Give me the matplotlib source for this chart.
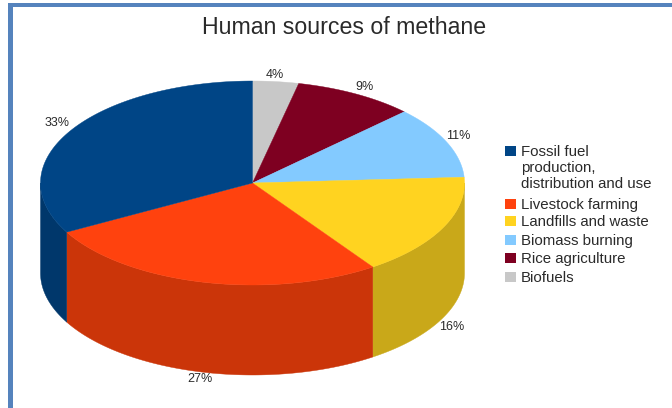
import numpy as np
import matplotlib
matplotlib.use("Agg")
import matplotlib.pyplot as plt
from matplotlib.patches import Rectangle, Polygon

plt.rcParams['font.family'] = ['Liberation Sans', 'DejaVu Sans']

title = "Human sources of methane"
categories = ["Biofuels", "Rice agriculture", "Biomass burning", "Landfills and waste",
              "Livestock farming", "Fossil fuel\nproduction,\ndistribution and use"]
values = [3.5, 9.2, 11.4, 16.3, 26.6, 33.0]
value_labels = ["4%", "9%", "11%", "16%", "27%", "33%"]
top_colors = ["#c8c8c8", "#7e0021", "#83caff", "#ffd320", "#ff420e", "#004586"]
side_colors = ["#a0a0a0", "#650019", "#69a2cc", "#c9a819", "#cb3509", "#00376b"]

# legend order, top to bottom
legend_order = [5, 4, 3, 2, 1, 0]
legend_y = [151, 204, 221, 240, 258, 277]
# percent label centres in pixels, same order as values
label_xy = [(275, 75), (365, 87), (458, 136), (452, 327), (200, 379), (57, 123)]

cx, cy, rx, ry, depth = 252.5, 183, 212, 102, 90

fig = plt.figure(figsize=(6.72, 4.08), dpi=100)
ax = fig.add_axes([0, 0, 1, 1])
ax.set_xlim(0, 672)
ax.set_ylim(408, 0)
ax.axis("off")

# frame of the original screenshot (runs off the right and bottom edges)
frame = "#5583bd"
ax.add_patch(Rectangle((8, 3), 700, 3.5, color=frame, lw=0))
ax.add_patch(Rectangle((8, 3), 4.5, 420, color=frame, lw=0))


def rim(a, b, n=120):
    t = np.radians(np.linspace(a, b, n))
    return cx + rx * np.sin(t), cy - ry * np.cos(t)


edges = np.concatenate([[0], np.cumsum(values)]) * 360 / sum(values)

# side walls: only the front half (90..270 degrees clockwise from the top) shows
for i in range(len(values)):
    a, b = max(edges[i], 90), min(edges[i + 1], 270)
    if a < b:
        x, y = rim(a, b)
        pts = np.r_[np.c_[x, y], np.c_[x, y + depth][::-1]]
        ax.add_patch(Polygon(pts, closed=True, fc=side_colors[i], ec=side_colors[i], lw=0.3, zorder=2))

# top face
for i in range(len(values)):
    x, y = rim(edges[i], edges[i + 1])
    pts = np.r_[[[cx, cy]], np.c_[x, y]]
    ax.add_patch(Polygon(pts, closed=True, fc=top_colors[i], ec=top_colors[i], lw=0.3, zorder=3))

text_color = "#2a2a2a"
for lab, (lx, ly) in zip(value_labels, label_xy):
    ax.text(lx, ly, lab, fontsize=9, color=text_color, ha="center", va="center", zorder=5)

ax.text(344, 27, title, fontsize=16.7, color=text_color, ha="center", va="center")

for idx, ly in zip(legend_order, legend_y):
    ax.add_patch(Rectangle((505, ly - 5.5), 10.5, 10.5, fc=top_colors[idx], lw=0))
    ax.text(521, ly - 6.5, categories[idx], fontsize=10.8, color=text_color, ha="left", va="top",
            linespacing=1.22)

fig.savefig("out.png", dpi=100)
